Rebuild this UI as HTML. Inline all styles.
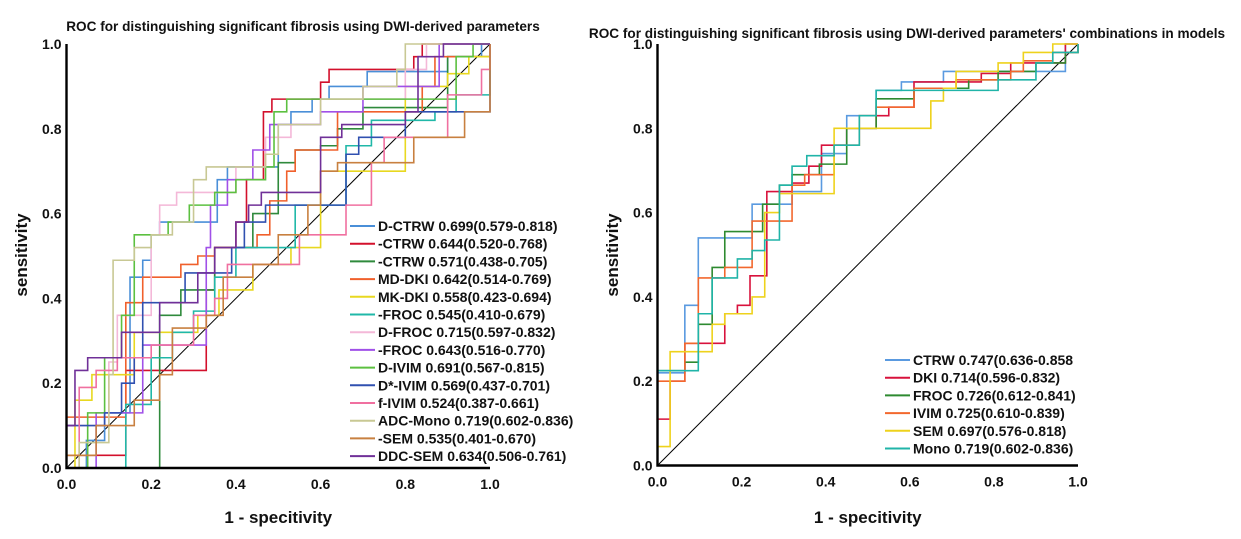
<!DOCTYPE html>
<html><head><meta charset="utf-8"><style>
html,body{margin:0;padding:0;background:#fff}
svg{display:block;font-family:"Liberation Sans",Arial,sans-serif}
</style></head><body>
<svg id="chart" width="1241" height="539" viewBox="0 0 1241 539"></svg>
<script>
// ---- Left chart data ----
const leftNames = ["D-CTRW 0.699(0.579-0.818)","-CTRW 0.644(0.520-0.768)","-CTRW 0.571(0.438-0.705)","MD-DKI 0.642(0.514-0.769)","MK-DKI 0.558(0.423-0.694)","-FROC 0.545(0.410-0.679)","D-FROC 0.715(0.597-0.832)","-FROC 0.643(0.516-0.770)","D-IVIM 0.691(0.567-0.815)","D*-IVIM 0.569(0.437-0.701)","f-IVIM 0.524(0.387-0.661)","ADC-Mono 0.719(0.602-0.836)","-SEM 0.535(0.401-0.670)","DDC-SEM 0.634(0.506-0.761)"];
const leftColors = ["#4a8fd8","#d3102c","#2f8a3c","#f0602c","#e8d820","#20b8a8","#f4b8d8","#a050e8","#5cc040","#3050b0","#f070a0","#c8c894","#c88040","#703098"];
const leftFpr = [
 [0,0.047,0.09,0.15,0.18,0.2,0.22,0.356,0.38,0.5,0.53,0.58,0.62,0.71,0.9,0.98,1],
 [0,0.14,0.33,0.35,0.4,0.425,0.465,0.485,0.6,0.62,0.82,0.84,1],
 [0,0.22,0.27,0.35,0.44,0.5,0.54,0.6,0.64,0.7,0.9,1],
 [0,0.14,0.18,0.27,0.31,0.35,0.45,0.48,0.52,0.54,0.64,0.84,0.87,1],
 [0,0.02,0.06,0.16,0.31,0.36,0.44,0.53,0.6,0.8,0.9,0.95,1],
 [0,0.14,0.2,0.25,0.3,0.35,0.4,0.54,0.66,0.72,0.87,0.92,1],
 [0,0.1,0.12,0.2,0.22,0.26,0.4,0.47,0.53,0.6,0.8,0.85,1],
 [0,0.07,0.18,0.33,0.34,0.38,0.44,0.48,0.6,0.7,0.88,1],
 [0,0.05,0.09,0.13,0.16,0.24,0.29,0.35,0.4,0.47,0.49,0.52,0.92,0.96,1],
 [0,0.09,0.13,0.16,0.18,0.28,0.39,0.42,0.47,0.66,0.69,0.8,1],
 [0,0.03,0.07,0.12,0.2,0.3,0.35,0.38,0.55,0.66,0.72,0.75,0.9,0.98,1],
 [0,0.03,0.1,0.11,0.16,0.2,0.25,0.3,0.33,0.47,0.5,0.6,0.7,0.78,0.8,1],
 [0,0.07,0.16,0.22,0.25,0.33,0.37,0.44,0.5,0.57,0.6,0.64,0.82,0.94,1],
 [0,0.02,0.05,0.13,0.22,0.31,0.35,0.4,0.43,0.46,0.6,0.65,0.8,0.83,0.89,1]
];
const leftTpr = [
 [0,0.065,0.13,0.45,0.49,0.55,0.58,0.68,0.71,0.81,0.84,0.87,0.9,0.935,0.97,1,1],
 [0.03,0.23,0.42,0.52,0.58,0.68,0.84,0.87,0.91,0.94,0.97,1,1],
 [0,0.36,0.42,0.52,0.6,0.72,0.75,0.76,0.8,0.85,0.97,1],
 [0.12,0.39,0.45,0.48,0.5,0.52,0.55,0.63,0.7,0.75,0.84,0.9,0.97,1],
 [0,0.16,0.22,0.32,0.36,0.42,0.48,0.52,0.7,0.9,0.93,0.97,1],
 [0,0.15,0.26,0.32,0.37,0.45,0.52,0.62,0.76,0.82,0.84,0.88,1],
 [0.1,0.25,0.36,0.55,0.62,0.65,0.71,0.78,0.81,0.87,0.94,1,1],
 [0,0.13,0.29,0.52,0.62,0.68,0.75,0.81,0.84,0.9,1,1],
 [0,0.13,0.26,0.36,0.55,0.58,0.62,0.65,0.68,0.71,0.84,0.87,0.97,1,1],
 [0.1,0.13,0.2,0.26,0.39,0.46,0.52,0.58,0.62,0.74,0.78,0.84,1],
 [0,0.19,0.23,0.26,0.29,0.36,0.4,0.48,0.55,0.62,0.72,0.78,0.88,0.94,1],
 [0,0.06,0.22,0.49,0.52,0.55,0.58,0.68,0.71,0.74,0.81,0.87,0.9,0.94,1,1],
 [0.03,0.1,0.16,0.22,0.33,0.36,0.45,0.48,0.55,0.62,0.7,0.72,0.78,0.84,1],
 [0.1,0.23,0.26,0.32,0.39,0.46,0.52,0.58,0.62,0.65,0.78,0.81,0.84,0.97,1,1]
];
// ---- Right chart data ----
const rightNames = ["CTRW 0.747(0.636-0.858","DKI 0.714(0.596-0.832)","FROC 0.726(0.612-0.841)","IVIM 0.725(0.610-0.839)","SEM 0.697(0.576-0.818)","Mono 0.719(0.602-0.836)"];
const rightColors = ["#5a9ae0","#d8123c","#2e8a30","#f2682e","#eed21c","#20b4a8"];
const rightFpr = [
 [0,0,0.065,0.097,0.225,0.32,0.39,0.45,0.52,0.58,0.68,0.97,1],
 [0,0,0.03,0.065,0.16,0.19,0.22,0.26,0.29,0.32,0.36,0.39,0.45,0.52,0.55,0.61,0.77,0.84,0.97,1],
 [0,0,0.065,0.097,0.13,0.16,0.25,0.29,0.32,0.385,0.45,0.52,0.61,0.74,0.81,0.9,0.97,1],
 [0,0,0.065,0.097,0.16,0.225,0.32,0.35,0.42,0.48,0.52,0.61,0.71,0.84,0.87,0.94,1],
 [0,0,0.03,0.13,0.16,0.225,0.255,0.29,0.42,0.65,0.68,0.71,0.81,0.87,0.94,1],
 [0,0,0.097,0.13,0.19,0.225,0.255,0.29,0.32,0.355,0.42,0.48,0.52,0.81,0.9,0.94,1]
];
const rightTpr = [
 [0,0.22,0.38,0.54,0.62,0.65,0.74,0.83,0.89,0.91,0.935,1,1],
 [0,0.11,0.2,0.29,0.36,0.38,0.45,0.65,0.65,0.67,0.71,0.76,0.8,0.83,0.85,0.91,0.93,0.955,1,1],
 [0,0.225,0.245,0.335,0.47,0.555,0.62,0.665,0.69,0.715,0.8,0.87,0.895,0.915,0.935,0.955,0.98,1],
 [0,0.2,0.29,0.445,0.47,0.58,0.665,0.69,0.76,0.83,0.85,0.895,0.915,0.935,0.96,0.98,1],
 [0,0.045,0.27,0.335,0.36,0.4,0.6,0.645,0.8,0.865,0.895,0.935,0.955,0.98,1,1],
 [0,0.225,0.36,0.445,0.49,0.51,0.535,0.665,0.71,0.735,0.76,0.83,0.89,0.915,0.955,0.98,1]
];
const ticks = [0,0.2,0.4,0.6,0.8,1.0];
const tickLabels = ["0.0","0.2","0.4","0.6","0.8","1.0"];

const NS="http://www.w3.org/2000/svg";
const svg=document.getElementById('chart');
function mk(tag,attrs,parent){const e=document.createElementNS(NS,tag);for(const k in attrs)e.setAttribute(k,attrs[k]);(parent||svg).appendChild(e);return e;}
function txt(s,attrs,parent){const e=mk('text',attrs,parent);e.textContent=s;return e;}

function drawChart(cfg){
  const g=mk('g',{});
  
  
  const sx=v=>cfg.x0+v*(cfg.x1-cfg.x0);
  const sy=v=>cfg.y0-v*(cfg.y0-cfg.y1);
  const t=txt(cfg.title,{x:cfg.titleX,y:cfg.titleY,'text-anchor':'middle','font-size':'13.6','font-weight':'bold',fill:'#111'},g);
  
  
  const d=mk('line',{x1:sx(0),y1:sy(0),x2:sx(1),y2:sy(1),stroke:'#000','stroke-width':1},g);
  
  
  cfg.fpr.forEach((xs,i)=>{
    const ys=cfg.tpr[i];
    let p='M'+sx(xs[0])+' '+sy(ys[0]);
    for(let k=1;k<xs.length;k++){p+=' H'+sx(xs[k])+' V'+sy(ys[k]);}
    const path=mk('path',{d:p,fill:'none',stroke:cfg.colors[i],'stroke-width':1.6},g);
    
    
  });
  const ax=mk('path',{d:`M${sx(0)} ${sy(1)} V${sy(0)} H${sx(1)}`,fill:'none',stroke:'#000','stroke-width':2.4},g);
  
  
  ticks.forEach((v,i)=>{
    const xl=txt(tickLabels[i],{x:sx(v),y:sy(0)+21,'text-anchor':'middle','font-size':'14','font-weight':'bold',fill:'#111'},g);
    
    
    const yl=txt(tickLabels[i],{x:sx(0)-5,y:sy(v)+5,'text-anchor':'end','font-size':'14','font-weight':'bold',fill:'#111'},g);
    
    
  });
  const xt=txt('1 - specitivity',{x:(sx(0)+sx(1))/2,y:523,'text-anchor':'middle','font-size':'17','font-weight':'bold',fill:'#111'},g);
  
  
  const yt=txt('sensitivity',{x:0,y:0,transform:`translate(${cfg.yTitleX},255) rotate(-90)`,'text-anchor':'middle','font-size':'17','font-weight':'bold',fill:'#111'},g);
  
  
  cfg.names.forEach((n,i)=>{
    const y=cfg.legY+i*17.7;
    const lg=mk('g',{},g);
    
    
    mk('line',{x1:cfg.legX,y1:y-5,x2:cfg.legX+25,y2:y-5,stroke:cfg.colors[i],'stroke-width':2},lg);
    txt(n,{x:cfg.legX+28,y:y,'font-size':'14','font-weight':'bold',fill:'#111'},lg);
  });
}
drawChart({key:'left',x0:66.5,x1:490,y0:468,y1:44,title:'ROC for distinguishing significant fibrosis using DWI-derived parameters',titleX:303,titleY:31,
  fpr:leftFpr,tpr:leftTpr,colors:leftColors,names:leftNames,legX:350,legY:231,yTitleX:27});
drawChart({key:'right',x0:657.5,x1:1078,y0:465.5,y1:44,title:"ROC for distinguishing significant fibrosis using DWI-derived parameters' combinations in models",titleX:907,titleY:38,
  fpr:rightFpr,tpr:rightTpr,colors:rightColors,names:rightNames,legX:885,legY:365,yTitleX:618});
</script>
</body></html>
